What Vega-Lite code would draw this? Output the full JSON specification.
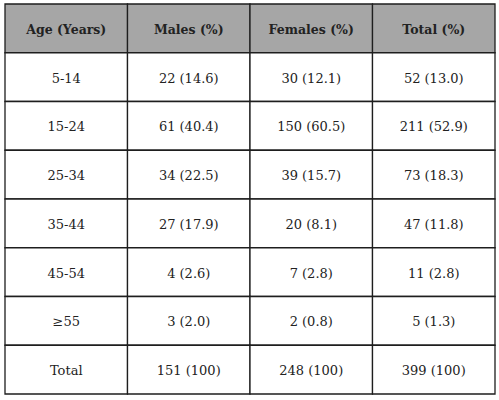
{
  "$schema": "https://vega.github.io/schema/vega-lite/v6.json",
  "width": 490,
  "height": 390,
  "autosize": {"type": "none"},
  "padding": {"left": 5, "top": 4, "right": 4, "bottom": 6},
  "background": "white",
  "config": {"view": {"stroke": null}},
  "data": {
    "values": [
      {"row": "Header", "col": "Age", "text": "Age (Years)"},
      {"row": "Header", "col": "Males", "text": "Males (%)"},
      {"row": "Header", "col": "Females", "text": "Females (%)"},
      {"row": "Header", "col": "Total", "text": "Total (%)"},
      {"row": "5-14", "col": "Age", "text": "5-14"},
      {"row": "5-14", "col": "Males", "text": "22 (14.6)"},
      {"row": "5-14", "col": "Females", "text": "30 (12.1)"},
      {"row": "5-14", "col": "Total", "text": "52 (13.0)"},
      {"row": "15-24", "col": "Age", "text": "15-24"},
      {"row": "15-24", "col": "Males", "text": "61 (40.4)"},
      {"row": "15-24", "col": "Females", "text": "150 (60.5)"},
      {"row": "15-24", "col": "Total", "text": "211 (52.9)"},
      {"row": "25-34", "col": "Age", "text": "25-34"},
      {"row": "25-34", "col": "Males", "text": "34 (22.5)"},
      {"row": "25-34", "col": "Females", "text": "39 (15.7)"},
      {"row": "25-34", "col": "Total", "text": "73 (18.3)"},
      {"row": "35-44", "col": "Age", "text": "35-44"},
      {"row": "35-44", "col": "Males", "text": "27 (17.9)"},
      {"row": "35-44", "col": "Females", "text": "20 (8.1)"},
      {"row": "35-44", "col": "Total", "text": "47 (11.8)"},
      {"row": "45-54", "col": "Age", "text": "45-54"},
      {"row": "45-54", "col": "Males", "text": "4 (2.6)"},
      {"row": "45-54", "col": "Females", "text": "7 (2.8)"},
      {"row": "45-54", "col": "Total", "text": "11 (2.8)"},
      {"row": "≥55", "col": "Age", "text": "≥55"},
      {"row": "≥55", "col": "Males", "text": "3 (2.0)"},
      {"row": "≥55", "col": "Females", "text": "2 (0.8)"},
      {"row": "≥55", "col": "Total", "text": "5 (1.3)"},
      {"row": "Total", "col": "Age", "text": "Total"},
      {"row": "Total", "col": "Males", "text": "151 (100)"},
      {"row": "Total", "col": "Females", "text": "248 (100)"},
      {"row": "Total", "col": "Total", "text": "399 (100)"}
    ]
  },
  "encoding": {
    "x": {
      "field": "col",
      "type": "nominal",
      "sort": ["Age", "Males", "Females", "Total"],
      "scale": {"paddingInner": 0, "paddingOuter": 0},
      "axis": null
    },
    "y": {
      "field": "row",
      "type": "nominal",
      "sort": ["Header", "5-14", "15-24", "25-34", "35-44", "45-54", "≥55", "Total"],
      "scale": {"paddingInner": 0, "paddingOuter": 0},
      "axis": null
    }
  },
  "layer": [
    {
      "mark": {"type": "rect", "stroke": "#1e1e1e", "strokeWidth": 1.3},
      "encoding": {
        "fill": {
          "condition": {"test": "datum.row === 'Header'", "value": "#a6a6a6"},
          "value": "#ffffff"
        }
      }
    },
    {
      "transform": [{"filter": "datum.row === 'Header'"}],
      "mark": {"type": "text", "font": "DejaVu Serif", "fontSize": 12.5, "fontWeight": "bold", "color": "#222222", "dy": 2},
      "encoding": {"text": {"field": "text"}}
    },
    {
      "transform": [{"filter": "datum.row !== 'Header'"}],
      "mark": {"type": "text", "font": "DejaVu Serif", "fontSize": 13, "color": "#222222", "dy": 1.5},
      "encoding": {"text": {"field": "text"}}
    }
  ]
}
